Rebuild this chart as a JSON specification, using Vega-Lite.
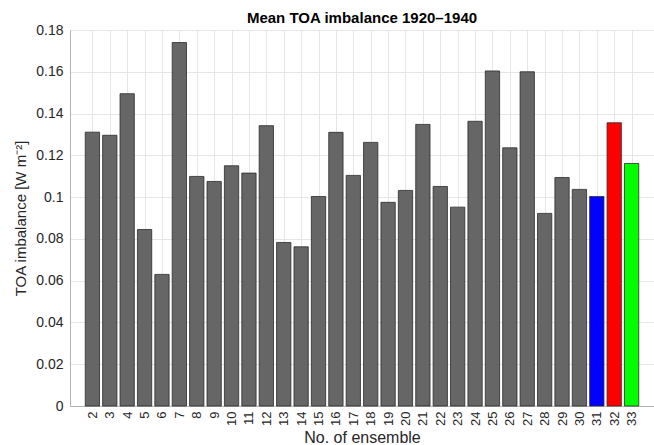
{
  "$schema": "https://vega.github.io/schema/vega-lite/v6.json",
  "autosize": {"type": "none"},
  "width": 584,
  "height": 376,
  "padding": {"left": 70, "top": 30, "right": 0, "bottom": 39},
  "background": "white",
  "title": {"text": "Mean TOA imbalance 1920–1940", "font": "Liberation Sans", "fontSize": 15, "fontWeight": "bold", "color": "#000000", "offset": -3, "anchor": "middle"},
  "config": {
    "view": {"stroke": "#d9d9d9", "strokeWidth": 1},
    "axis": {"labelFont": "Liberation Sans", "titleFont": "Liberation Sans", "labelColor": "#262626", "titleColor": "#262626", "gridColor": "#e6e6e6", "gridOpacity": 1, "domainColor": "#b3b3b3"}
  },
  "data": {"values": [
    {"ens": 2, "value": 0.1311, "group": "Ensemble"},
    {"ens": 3, "value": 0.1296, "group": "Ensemble"},
    {"ens": 4, "value": 0.1495, "group": "Ensemble"},
    {"ens": 5, "value": 0.0845, "group": "Ensemble"},
    {"ens": 6, "value": 0.0630, "group": "Ensemble"},
    {"ens": 7, "value": 0.1740, "group": "Ensemble"},
    {"ens": 8, "value": 0.1099, "group": "Ensemble"},
    {"ens": 9, "value": 0.1075, "group": "Ensemble"},
    {"ens": 10, "value": 0.1150, "group": "Ensemble"},
    {"ens": 11, "value": 0.1115, "group": "Ensemble"},
    {"ens": 12, "value": 0.1342, "group": "Ensemble"},
    {"ens": 13, "value": 0.0783, "group": "Ensemble"},
    {"ens": 14, "value": 0.0762, "group": "Ensemble"},
    {"ens": 15, "value": 0.1003, "group": "Ensemble"},
    {"ens": 16, "value": 0.1310, "group": "Ensemble"},
    {"ens": 17, "value": 0.1104, "group": "Ensemble"},
    {"ens": 18, "value": 0.1262, "group": "Ensemble"},
    {"ens": 19, "value": 0.0975, "group": "Ensemble"},
    {"ens": 20, "value": 0.1032, "group": "Ensemble"},
    {"ens": 21, "value": 0.1348, "group": "Ensemble"},
    {"ens": 22, "value": 0.1051, "group": "Ensemble"},
    {"ens": 23, "value": 0.0952, "group": "Ensemble"},
    {"ens": 24, "value": 0.1363, "group": "Ensemble"},
    {"ens": 25, "value": 0.1604, "group": "Ensemble"},
    {"ens": 26, "value": 0.1236, "group": "Ensemble"},
    {"ens": 27, "value": 0.1600, "group": "Ensemble"},
    {"ens": 28, "value": 0.0922, "group": "Ensemble"},
    {"ens": 29, "value": 0.1094, "group": "Ensemble"},
    {"ens": 30, "value": 0.1037, "group": "Ensemble"},
    {"ens": 31, "value": 0.1003, "group": "Run 31"},
    {"ens": 32, "value": 0.1356, "group": "Run 32"},
    {"ens": 33, "value": 0.1161, "group": "Run 33"}
  ]},
  "mark": {"type": "bar", "size": 14.3, "stroke": "#2b2b2b", "strokeWidth": 0.8},
  "encoding": {
    "x": {
      "field": "ens", "type": "quantitative",
      "scale": {"domain": [1, 34], "nice": false, "zero": false},
      "axis": {
        "values": [2,3,4,5,6,7,8,9,10,11,12,13,14,15,16,17,18,19,20,21,22,23,24,25,26,27,28,29,30,31,32,33],
        "labelAngle": -90, "labelFontSize": 13, "labelPadding": 5, "ticks": false,
        "grid": true, "title": "No. of ensemble", "titleFontSize": 16, "titleFontWeight": "normal", "titlePadding": 4
      }
    },
    "y": {
      "field": "value", "type": "quantitative",
      "scale": {"domain": [0, 0.18], "nice": false},
      "axis": {
        "values": [0, 0.02, 0.04, 0.06, 0.08, 0.1, 0.12, 0.14, 0.16, 0.18],
        "format": "~g", "labelFontSize": 14, "labelPadding": 7, "ticks": false,
        "grid": true, "title": "TOA imbalance [W m⁻²]", "titleFontSize": 15, "titleFontWeight": "normal", "titlePadding": 7
      }
    },
    "color": {
      "field": "group", "type": "nominal",
      "scale": {"domain": ["Ensemble", "Run 31", "Run 32", "Run 33"], "range": ["#666666", "#0000ff", "#ff0000", "#00ff00"]},
      "legend": null
    }
  }
}
